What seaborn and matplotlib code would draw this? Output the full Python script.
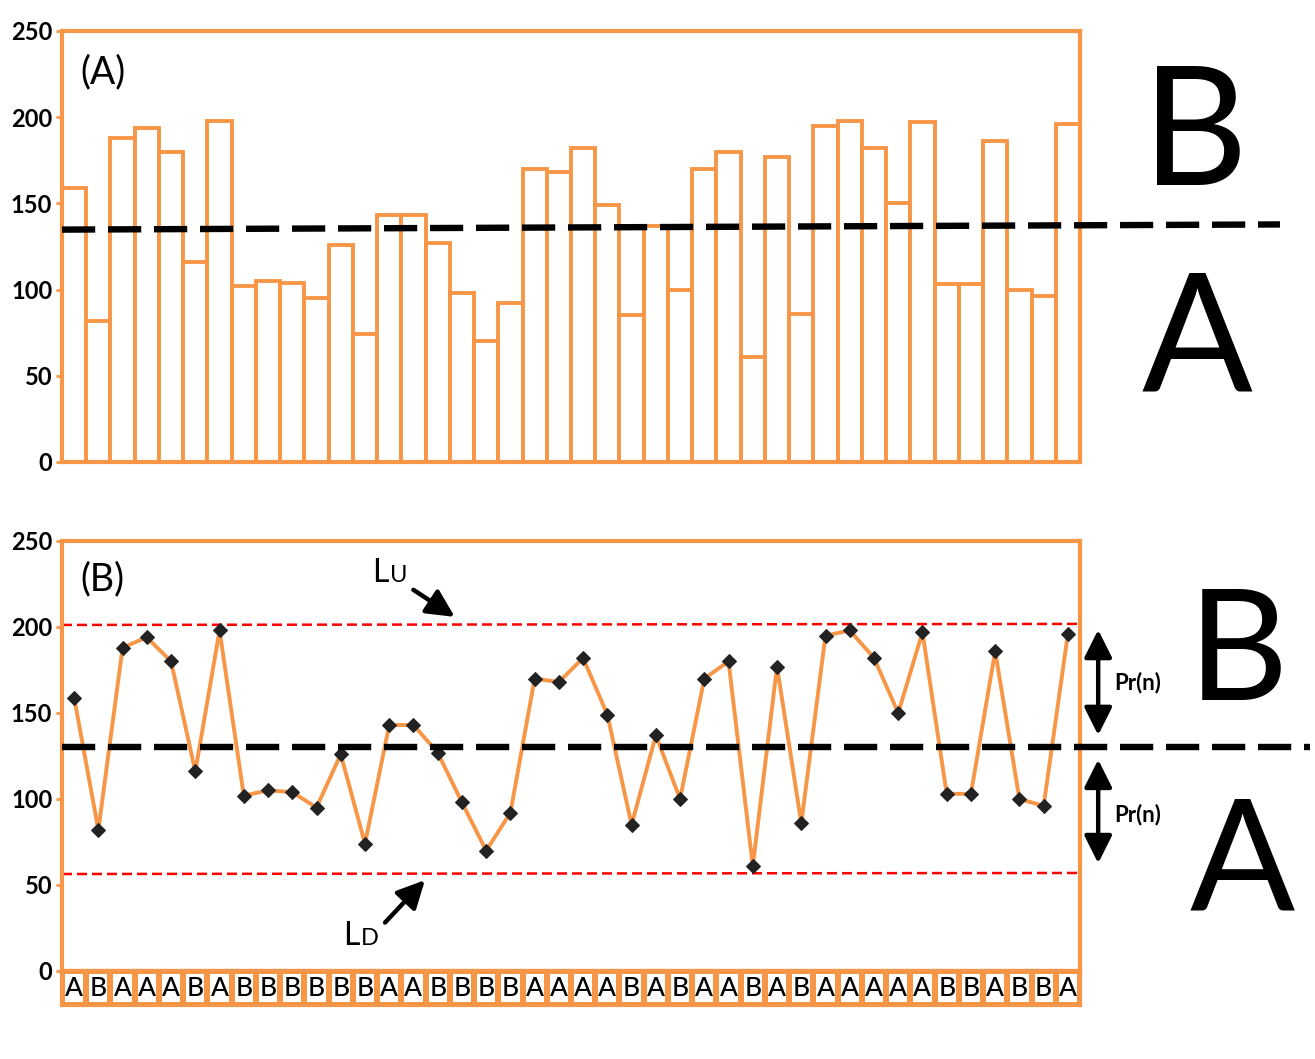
import numpy as np
import pandas as pd
import matplotlib.pyplot as plt
from matplotlib.colors import ListedColormap
import seaborn as sns

# --- data ---
labels = ['A', 'B', 'A', 'A', 'A', 'B', 'A', 'B', 'B', 'B', 'B', 'B', 'B', 'A',
          'A', 'B', 'B', 'B', 'B', 'A', 'A', 'A', 'A', 'B', 'A', 'B', 'A', 'A',
          'B', 'A', 'B', 'A', 'A', 'A', 'A', 'A', 'B', 'B', 'A', 'B', 'B', 'A']
values = [159, 82, 188, 194, 180, 116, 198, 102, 105, 104, 95, 126, 74, 143,
          143, 127, 98, 70, 92, 170, 168, 182, 149, 85, 137, 100, 170, 180,
          61, 177, 86, 195, 198, 182, 150, 197, 103, 103, 186, 100, 96, 196]
positions = list(range(len(values)))

split_top = [134.8, 137.8]   # dashed A/B split, panel (A), left and far right end
split_bottom = [130, 130]    # dashed A/B split, panel (B)
lu_line = [201.2, 201.8]     # upper limit Lu
ld_line = [56.4, 57.0]       # lower limit LD
y_ticks = [0, 50, 100, 150, 200, 250]

orange = '#F79646'
W, H = 1315, 1059

sns.set_theme(style='white')
plt.rcParams['font.family'] = ['Lato', 'DejaVu Sans']
plt.rcParams['text.color'] = 'black'
plt.rcParams['ytick.labelcolor'] = 'black'

fig = plt.figure(figsize=(W / 100, H / 100), dpi=100)
ax_a = fig.add_axes([62 / W, 1 - 462 / H, 1018 / W, 431 / H])
ax_b = fig.add_axes([62 / W, 1 - 971 / H, 1018 / W, 430 / H])
ax_lab = fig.add_axes([62 / W, 1 - 1005 / H, 1018 / W, 34 / H])


def style_axes(ax):
    ax.set_xlim(-0.5, len(values) - 0.5)
    ax.set_ylim(0, 250)
    ax.set_yticks(y_ticks)
    ax.set_xticks([])
    ax.set_xlabel('')
    ax.set_ylabel('')
    for s in ax.spines.values():
        s.set_visible(True)
        s.set_color(orange)
        s.set_linewidth(3)
    ax.tick_params(axis='y', which='major', left=True, length=4, width=2,
                   color=orange, pad=3, labelsize=17, labelcolor='black')
    for t in ax.get_yticklabels():
        t.set_fontweight('bold')


# --- panel (A): bars ---
sns.barplot(x=positions, y=values, color='white', saturation=1, width=1.0,
            edgecolor=orange, linewidth=2.8, ax=ax_a)
style_axes(ax_a)
ax_a.plot([-0.5, 49.75], split_top, color='black', lw=4.6,
          linestyle=(0, (5.2, 2.0)), clip_on=False, zorder=5)
ax_a.text(0.018, 0.905, '(A)', transform=ax_a.transAxes, fontsize=27,
          va='center', ha='left')

# --- panel (B): line with markers ---
sns.lineplot(x=positions, y=values, color=orange, lw=2.8, marker='D',
             markersize=6.8, markerfacecolor='#222222',
             markeredgecolor='#222222', ax=ax_b, zorder=4)
style_axes(ax_b)
ax_b.plot([-0.5, 41.5], lu_line, color='red', lw=1.8, linestyle=(0, (4, 2)))
ax_b.plot([-0.5, 41.5], ld_line, color='red', lw=1.8, linestyle=(0, (4, 2)))
ax_b.plot([-0.5, 51], split_bottom, color='black', lw=4.6,
          linestyle=(0, (5.2, 2.0)), clip_on=False, zorder=5)
ax_b.text(0.018, 0.91, '(B)', transform=ax_b.transAxes, fontsize=27,
          va='center', ha='left')

# Lu / LD labels and arrows
ax_b.text(12.3, 226, 'L', fontsize=23, ha='left', va='baseline')
ax_b.text(13.05, 226, 'U', fontsize=17, ha='left', va='baseline')
ax_b.annotate('', xy=(15.8, 205), xytext=(13.9, 222.5),
              arrowprops=dict(arrowstyle='-|>', color='black', lw=3.2,
                              mutation_scale=42))
ax_b.text(11.1, 15, 'L', fontsize=23, ha='left', va='baseline')
ax_b.text(11.85, 15, 'D', fontsize=17, ha='left', va='baseline')
ax_b.annotate('', xy=(14.55, 54), xytext=(12.75, 27),
              arrowprops=dict(arrowstyle='-|>', color='black', lw=3.2,
                              mutation_scale=42))

# Pr(n) double arrows outside the axes
for y0, y1, ty in [(200, 135.5, 168), (124.5, 61, 91)]:
    ax_b.annotate('', xy=(42.25, y0), xytext=(42.25, y1),
                  arrowprops=dict(arrowstyle='<|-|>', color='black', lw=3.2,
                                  mutation_scale=42),
                  annotation_clip=False)
    ax_b.text(42.9, ty, 'Pr(n)', fontsize=16, fontweight='bold',
              ha='left', va='center', clip_on=False)

# --- label row under panel (B) ---
sns.heatmap(np.zeros((1, len(labels))), annot=np.array([labels]), fmt='',
            cmap=ListedColormap(['white']), cbar=False, linewidths=3,
            linecolor=orange, xticklabels=False, yticklabels=False,
            annot_kws={'fontsize': 19, 'color': 'black', 'fontweight': 'medium'},
            ax=ax_lab)
for s in ax_lab.spines.values():
    s.set_visible(True)
    s.set_color(orange)
    s.set_linewidth(3)

# --- big region letters on the right ---
fig.text(1195 / W, 1 - 185 / H, 'B', fontsize=118, ha='center', va='baseline')
fig.text(1197 / W, 1 - 390 / H, 'A', fontsize=118, ha='center', va='baseline')
fig.text(1238 / W, 1 - 700 / H, 'B', fontsize=112, ha='center', va='baseline')
fig.text(1242 / W, 1 - 910 / H, 'A', fontsize=112, ha='center', va='baseline')

fig.savefig('out.png', dpi=100)
